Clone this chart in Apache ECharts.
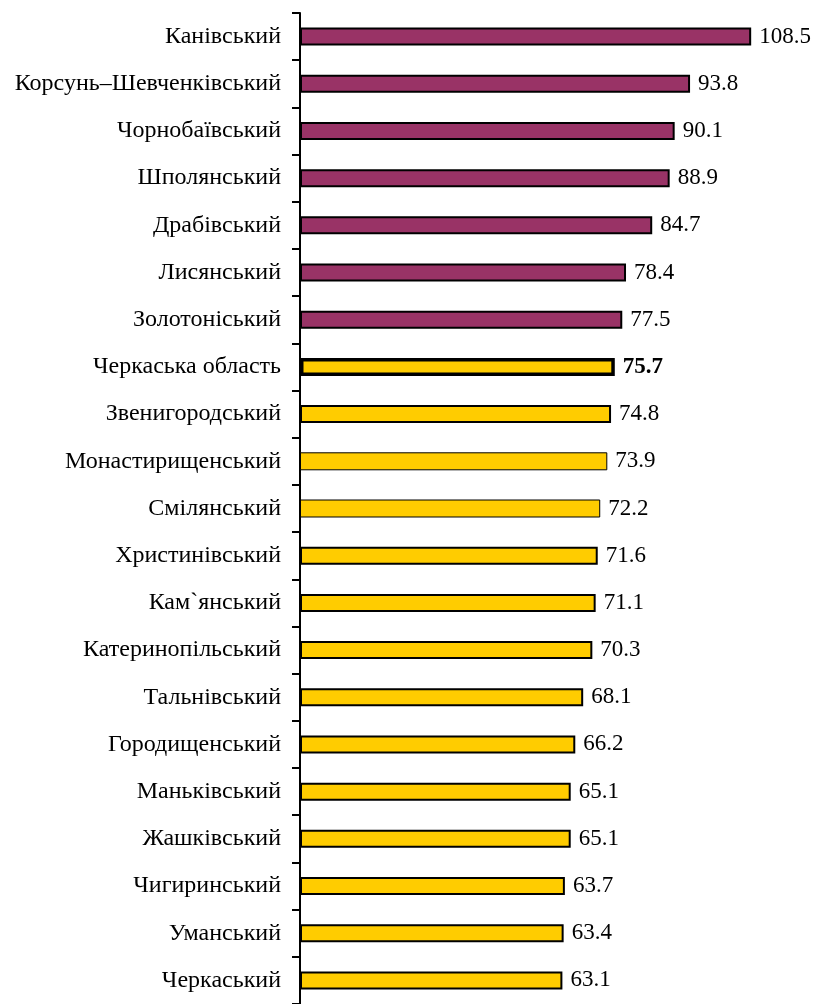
<!DOCTYPE html>
<html><head><meta charset="utf-8">
<script src="https://cdn.jsdelivr.net/npm/echarts@6/dist/echarts.min.js"></script>
<style>html,body{margin:0;padding:0;background:#fff}#c{width:817px;height:1004px}</style>
</head><body><div id="c"></div>
<script>
const categories = ["Канівський","Корсунь–Шевченківський","Чорнобаївський","Шполянський","Драбівський","Лисянський","Золотоніський","Черкаська область","Звенигородський","Монастирищенський","Смілянський","Христинівський","Кам`янський","Катеринопільський","Тальнівський","Городищенський","Маньківський","Жашківський","Чигиринський","Уманський","Черкаський"];
const values = [108.5,93.8,90.1,88.9,84.7,78.4,77.5,75.7,74.8,73.9,72.2,71.6,71.1,70.3,68.1,66.2,65.1,65.1,63.7,63.4,63.1];
const aboveRegion = 7; // first 7 are above the oblast average
const regionName = "Черкаська область";
const thinBorder = ["Монастирищенський","Смілянський"];

const font = '"Liberation Serif","Times New Roman",serif';
const data = values.map((v,i)=>{
  const name = categories[i];
  const isRegion = name === regionName;
  return {
    value: v,
    itemStyle: {
      color: i < aboveRegion ? '#993366' : '#FFCC00',
      borderColor: '#000',
      borderWidth: isRegion ? 3.5 : (thinBorder.includes(name) ? 1 : 2)
    },
    label: isRegion ? {fontWeight:'bold'} : {}
  };
});
const chart = echarts.init(document.getElementById('c'));
chart.setOption({
  animation:false,
  grid:{left:300, top:13, width:499, height:994, containLabel:false},
  xAxis:{type:'value', min:0, max:120, show:false},
  yAxis:{type:'category', data:categories, inverse:true,
    axisLine:{lineStyle:{color:'#000', width:2}},
    axisTick:{show:true, length:8, lineStyle:{color:'#000', width:2}},
    axisLabel:{color:'#000', fontFamily:font, fontSize:24, margin:19}
  },
  series:[{type:'bar', data:data, barWidth:18,
    label:{show:true, position:'right', distance:8, color:'#000', fontFamily:font, fontSize:23,
      formatter:p=>p.value.toFixed(1)}
  }]
});
</script></body></html>
